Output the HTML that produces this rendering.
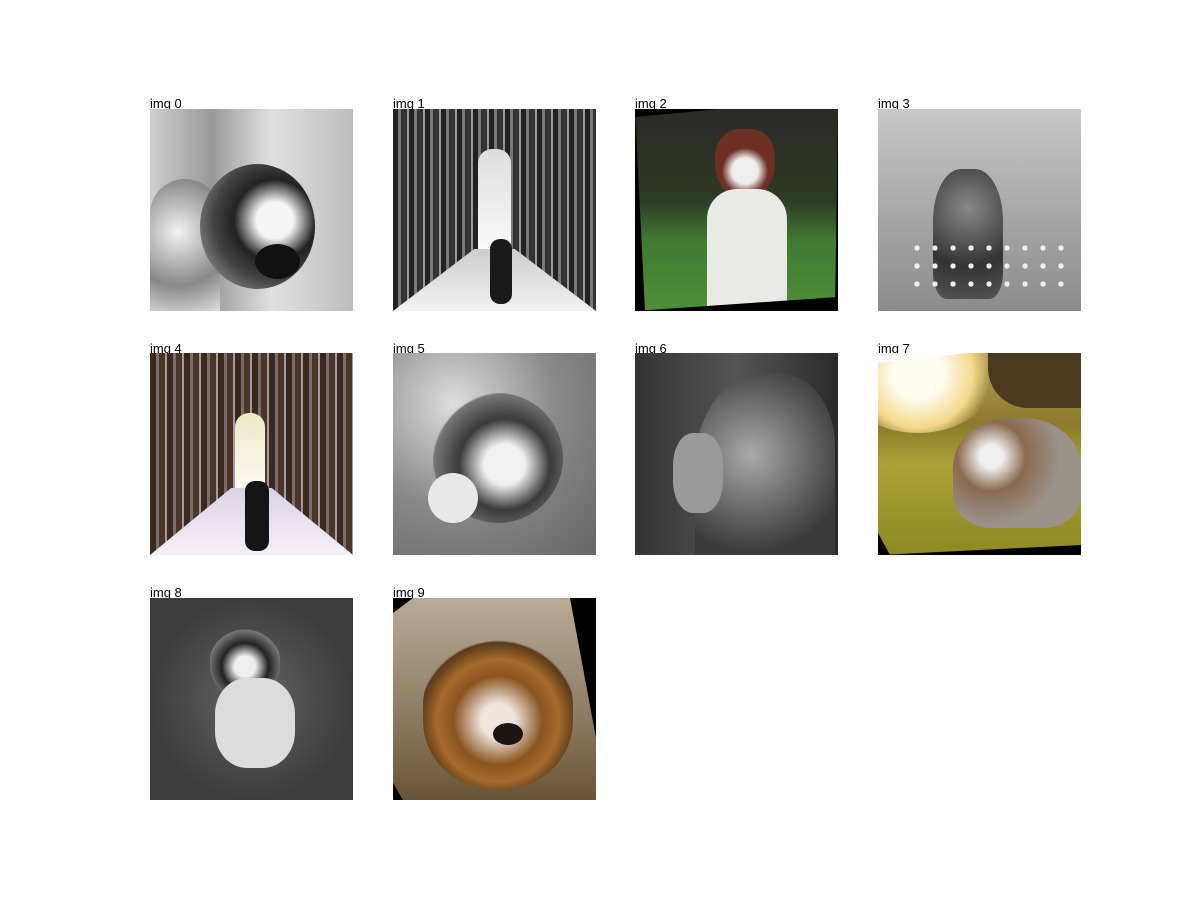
<!DOCTYPE html>
<html><head><meta charset="utf-8"><style>
body{margin:0;background:#fff;}
#fig{position:relative;width:1200px;height:900px;background:#fff;overflow:hidden;font-family:"Liberation Sans",sans-serif;}
.lbl{position:absolute;font-size:13px;color:#000;line-height:13px;}
.im{position:absolute;width:203px;height:202px;overflow:hidden;}
.im div{position:absolute;}
</style></head><body>
<div id="fig">

<div class="lbl" style="left:150px;top:97px">img 0</div>
<div class="im" style="left:150px;top:109px;background:linear-gradient(90deg,#cfcfcf,#9a9a9a 30%,#e0e0e0 60%,#bdbdbd)">
 <div style="left:0;top:70px;width:70px;height:132px;border-radius:40px 40px 0 0;background:radial-gradient(circle at 40% 40%,#f2f2f2,#888 60%,#ddd)"></div>
 <div style="left:50px;top:55px;width:115px;height:125px;border-radius:50%;background:radial-gradient(circle at 65% 45%,#f5f5f5 18%,#222 40%,#444 60%,#bbb)"></div>
 <div style="left:105px;top:135px;width:45px;height:35px;border-radius:50%;background:#111"></div>
</div>

<div class="lbl" style="left:393px;top:97px">img 1</div>
<div class="im" style="left:393px;top:109px;background:repeating-linear-gradient(90deg,#222 0 5px,#777 5px 8px,#333 8px 14px,#999 14px 16px)">
 <div style="left:85px;top:40px;width:33px;height:120px;background:linear-gradient(#ddd,#fff);border-radius:14px 14px 0 0"></div>
 <div style="left:0;top:140px;width:203px;height:62px;background:linear-gradient(#ccc,#f2f2f2);clip-path:polygon(40% 0,60% 0,100% 100%,0 100%)"></div>
 <div style="left:97px;top:130px;width:22px;height:65px;background:#1a1a1a;border-radius:10px"></div>
</div>

<div class="lbl" style="left:635px;top:97px">img 2</div>
<div class="im" style="left:635px;top:109px;background:linear-gradient(#2b2b26,#2d3a25 45%,#3f7a30 65%,#4f8f3a)">
 <div style="left:80px;top:20px;width:60px;height:70px;border-radius:40% 40% 50% 50%;background:radial-gradient(circle at 50% 60%,#eee 25%,#6b2f24 45%)"></div>
 <div style="left:72px;top:80px;width:80px;height:122px;border-radius:30px 30px 0 0;background:#e9e9e6"></div>
 <div style="left:0;top:0;width:203px;height:202px;background:#000;clip-path:polygon(0 0,85px 0,0 8px)"></div>
 <div style="left:0;top:0;width:203px;height:202px;background:#000;clip-path:polygon(203px 0,203px 202px,200px 202px)"></div>
 <div style="left:0;top:0;width:203px;height:202px;background:#000;clip-path:polygon(0 0,10px 202px,0 202px)"></div>
 <div style="left:0;top:0;width:203px;height:202px;background:#000;clip-path:polygon(0 202px,203px 188px,203px 202px)"></div>
</div>

<div class="lbl" style="left:878px;top:97px">img 3</div>
<div class="im" style="left:878px;top:109px;background:linear-gradient(#c8c8c8,#a8a8a8 50%,#8c8c8c)">
 <div style="left:55px;top:60px;width:70px;height:130px;border-radius:40% 40% 20% 20%;background:radial-gradient(circle at 50% 30%,#888,#333 60%,#555)"></div>
 <div style="left:30px;top:130px;width:160px;height:50px;background:radial-gradient(circle,#eee 20%,transparent 22%) 0 0/18px 18px"></div>
</div>

<div class="lbl" style="left:150px;top:342px">img 4</div>
<div class="im" style="left:150px;top:353px;background:repeating-linear-gradient(90deg,#3a2a1e 0 6px,#7a6b6c 6px 9px,#4a3526 9px 15px,#a39aa6 15px 17px)">
 <div style="left:85px;top:60px;width:30px;height:100px;background:linear-gradient(#eee9c8,#fff);border-radius:14px 14px 0 0"></div>
 <div style="left:0;top:135px;width:203px;height:67px;background:linear-gradient(#d9d3e4,#f4f1f8);clip-path:polygon(40% 0,60% 0,100% 100%,0 100%)"></div>
 <div style="left:95px;top:128px;width:24px;height:70px;background:#151515;border-radius:10px"></div>
</div>

<div class="lbl" style="left:393px;top:342px">img 5</div>
<div class="im" style="left:393px;top:353px;background:radial-gradient(circle at 30% 25%,#ddd,#888 50%,#666)">
 <div style="left:40px;top:40px;width:130px;height:130px;border-radius:50%;background:radial-gradient(circle at 55% 55%,#f0f0f0 20%,#3a3a3a 45%,#777 70%,transparent 72%)"></div>
 <div style="left:35px;top:120px;width:50px;height:50px;border-radius:50%;background:#e8e8e8"></div>
</div>

<div class="lbl" style="left:635px;top:342px">img 6</div>
<div class="im" style="left:635px;top:353px;background:linear-gradient(90deg,#333,#555 50%,#2a2a2a)">
 <div style="left:60px;top:20px;width:140px;height:182px;border-radius:50% 40% 0 0;background:radial-gradient(circle at 40% 45%,#aaa,#666 45%,#3a3a3a 75%)"></div>
 <div style="left:38px;top:80px;width:50px;height:80px;border-radius:40%;background:#9a9a9a"></div>
</div>

<div class="lbl" style="left:878px;top:342px">img 7</div>
<div class="im" style="left:878px;top:353px;background:linear-gradient(#b9a15a,#8a7a2a 35%,#a9a237 55%,#8c8a22)">
 <div style="left:-40px;top:-40px;width:160px;height:120px;border-radius:50%;background:radial-gradient(circle,#fffdf0 25%,#f4d88a 55%,transparent 72%)"></div>
 <div style="left:110px;top:0;width:93px;height:55px;background:#4a3a20;border-radius:0 0 0 40px"></div>
 <div style="left:75px;top:65px;width:128px;height:110px;border-radius:45% 45% 30% 30%;background:radial-gradient(circle at 30% 35%,#eee 10%,#8a6a50 30%,#9a938c 60%)"></div>
 <div style="left:0;top:0;width:203px;height:202px;background:#000;clip-path:polygon(0 180px,12px 202px,0 202px)"></div>
 <div style="left:0;top:0;width:203px;height:202px;background:#000;clip-path:polygon(0 202px,203px 192px,203px 202px)"></div>
 <div style="left:0;top:0;width:203px;height:202px;background:#fff;clip-path:polygon(0 0,90px 0,0 10px)"></div>
</div>

<div class="lbl" style="left:150px;top:586px">img 8</div>
<div class="im" style="left:150px;top:598px;background:radial-gradient(circle at 50% 50%,#666,#3c3c3c 70%)">
 <div style="left:60px;top:30px;width:70px;height:70px;border-radius:45%;background:radial-gradient(circle at 50% 55%,#eee 20%,#222 45%,#777 70%,transparent 72%)"></div>
 <div style="left:65px;top:80px;width:80px;height:90px;border-radius:40%;background:#dcdcdc"></div>
</div>

<div class="lbl" style="left:393px;top:586px">img 9</div>
<div class="im" style="left:393px;top:598px;background:linear-gradient(#b8ab95,#8a7a62 60%,#6a5535)">
 <div style="left:30px;top:40px;width:150px;height:150px;border-radius:45%;background:radial-gradient(circle at 50% 55%,#eee6dc 15%,#8a5520 40%,#a46a2a 55%,#5a3a1a 70%,transparent 72%)"></div>
 <div style="left:100px;top:125px;width:30px;height:22px;border-radius:50%;background:#1a1412"></div>
 <div style="left:0;top:0;width:203px;height:202px;background:#000;clip-path:polygon(177px 0,203px 0,203px 140px)"></div>
 <div style="left:0;top:0;width:203px;height:202px;background:#000;clip-path:polygon(0 0,20px 0,0 15px)"></div>
 <div style="left:0;top:0;width:203px;height:202px;background:#000;clip-path:polygon(0 185px,10px 202px,0 202px)"></div>
</div>

</div>
</body></html>
